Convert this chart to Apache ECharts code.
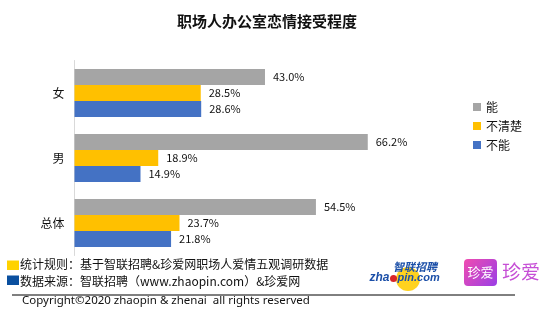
<!DOCTYPE html>
<html>
<head>
<meta charset="utf-8">
<script src="https://cdn.jsdelivr.net/npm/echarts@6/dist/echarts.min.js"></script>
<style>
html,body{margin:0;padding:0;background:#fff;}
#c{width:554px;height:320px;}
</style>
</head>
<body>
<div id="c"></div>
<script>
var categories = ['女', '男', '总体'];
var seriesNames = ['能', '不清楚', '不能'];
var canValues = [43.0, 66.2, 54.5];
var unsureValues = [28.5, 18.9, 23.7];
var cannotValues = [28.6, 14.9, 21.8];
var colors = ['#a5a5a5', '#ffc000', '#4472c4'];

var chart = echarts.init(document.getElementById('c'));
var font = '"Noto Sans CJK SC", "Noto Sans", sans-serif';
function mk(name, data, color) {
  return {
    name: name, type: 'bar', data: data, barGap: '0%', barCategoryGap: '26%',
    itemStyle: {color: color},
    label: {show: true, position: 'right', distance: 8, color: '#111', fontSize: 11, fontFamily: font,
      formatter: function (p) { return p.value.toFixed(1) + '%'; }},
    emphasis: {disabled: true}
  };
}
chart.setOption({
  animation: false,
  title: {text: '职场人办公室恋情接受程度', left: 262, top: 9, textAlign: 'center',
    textStyle: {fontSize: 15, fontWeight: 'bold', color: '#111', fontFamily: font}},
  legend: {orient: 'vertical', left: 468, top: 96, itemWidth: 8, itemHeight: 8, itemGap: 7,
    icon: 'rect', textStyle: {fontSize: 12, color: '#111', fontFamily: font},
    data: seriesNames},
  grid: {left: 74.5, top: 60.5, width: 443, height: 195},
  xAxis: {type: 'value', min: 0, max: 100, show: false},
  yAxis: {type: 'category', data: categories, inverse: true,
    axisLine: {lineStyle: {color: '#d9d9d9'}}, axisTick: {show: false},
    axisLabel: {fontSize: 12, color: '#111', margin: 10, fontFamily: font}},
  series: [mk(seriesNames[0], canValues, colors[0]), mk(seriesNames[1], unsureValues, colors[1]), mk(seriesNames[2], cannotValues, colors[2])],
  graphic: [
    {type: 'rect', shape: {x: 7, y: 260.5, width: 12, height: 9.5}, style: {fill: '#ffd200'}},
    {type: 'text', style: {x: 20, y: 264.5, text: '统计规则：基于智联招聘&珍爱网职场人爱情五观调研数据', fontSize: 12, fontFamily: font, fill: '#111', verticalAlign: 'middle'}},
    {type: 'rect', shape: {x: 7, y: 275.5, width: 12, height: 9.5}, style: {fill: '#0a4f9f'}},
    {type: 'text', style: {x: 20, y: 281, text: '数据来源：智联招聘（www.zhaopin.com）&珍爱网', fontSize: 12, fontFamily: font, fill: '#111', verticalAlign: 'middle'}},
    {type: 'line', shape: {x1: 12, y1: 295, x2: 515, y2: 295}, style: {stroke: '#000', lineWidth: 1}},
    {type: 'text', style: {x: 22, y: 301, text: 'Copyright©2020 zhaopin & zhenai  all rights reserved', fontSize: 11.5, fontFamily: '"Noto Sans", sans-serif', fill: '#111', verticalAlign: 'middle'}},
    {type: 'circle', shape: {cx: 408, cy: 279, r: 12}, style: {fill: '#ffd21f'}},
    {type: 'text', style: {x: 437, y: 267, text: '智联招聘', fontSize: 11, fontStyle: 'italic', fontWeight: 'bold', fontFamily: font, fill: '#1b4fa8', align: 'right', verticalAlign: 'middle'}},
    {type: 'text', style: {x: 389.5, y: 278, text: 'zha', fontSize: 12, fontStyle: 'italic', fontWeight: 'bold', fontFamily: '"Liberation Sans", sans-serif', fill: '#1b4fa8', align: 'right', verticalAlign: 'middle'}},
    {type: 'text', style: {x: 397.5, y: 278, text: 'pin.com', fontSize: 11, fontStyle: 'italic', fontWeight: 'bold', fontFamily: '"Liberation Sans", sans-serif', fill: '#1b4fa8', align: 'left', verticalAlign: 'middle'}},
    {type: 'circle', shape: {cx: 393.5, cy: 278.5, r: 3.5}, style: {fill: '#d8262a'}},
    {type: 'rect', shape: {x: 464, y: 259, width: 33, height: 27, r: 4},
      style: {fill: new echarts.graphic.LinearGradient(0, 0, 1, 1, [{offset: 0, color: '#f04cb0'}, {offset: 1, color: '#9a3ee6'}])}},
    {type: 'text', style: {x: 480.5, y: 272.5, text: '珍爱', fontSize: 13, fontFamily: font, fill: '#fff', align: 'center', verticalAlign: 'middle'}},
    {type: 'text', style: {x: 521, y: 272, text: '珍爱', fontSize: 19, fontFamily: font, fill: '#c64fd6', align: 'center', verticalAlign: 'middle'}}
  ]
});
</script>
</body>
</html>
